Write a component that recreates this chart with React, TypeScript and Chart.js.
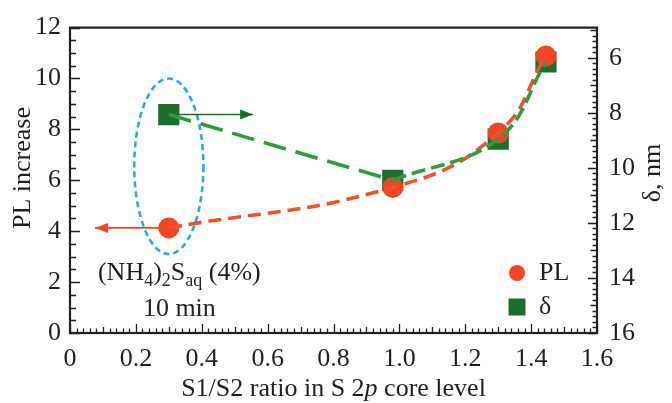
import React, { useEffect, useRef } from "react";
import { Chart, registerables } from "chart.js";
Chart.register(...registerables);

// ---- data ----
const ratio = [0.3, 0.98, 1.3, 1.445];
const plIncrease = [4.13, 5.72, 7.86, 10.88];
const deltaNm = [8.06, 10.45, 8.95, 6.15];

const xTicks = [0, 0.2, 0.4, 0.6, 0.8, 1.0, 1.2, 1.4, 1.6];
const xTickLabels = ["0", "0.2", "0.4", "0.6", "0.8", "1.0", "1.2", "1.4", "1.6"];
const plTicks = [0, 2, 4, 6, 8, 10, 12];
const deltaTicks = [6, 8, 10, 12, 14, 16];

const FONT = "Liberation Serif";
const FS = 26;
const TXT = "#231f20";
const RED = "#f04623";
const RED_LINE = "#f0502c";
const GREEN = "#1c6e2e";
const GREEN_LINE = "#2f9a3e";
const CYAN = "#2aa9e0";

const pts = (xs: number[], ys: number[]) => xs.map((x, i) => ({ x, y: ys[i] }));

const decorPlugin = {
  id: "decor",
  beforeDatasetsDraw(chart: any) {
    const ctx = chart.ctx;
    const x = chart.scales.x, y = chart.scales.y, y2 = chart.scales.y2;
    ctx.save();
    // dashed ellipse around the first sample
    const cx = x.getPixelForValue(0.3);
    const cy = y.getPixelForValue(6.55);
    const rx = x.getPixelForValue(0.405) - cx;
    const ry = cy - y.getPixelForValue(10.0);
    ctx.strokeStyle = CYAN;
    ctx.lineWidth = 2.6;
    ctx.setLineDash([6, 4]);
    ctx.beginPath();
    ctx.ellipse(cx, cy, rx, ry, 0, 0, Math.PI * 2);
    ctx.stroke();
    ctx.setLineDash([]);
    // arrows
    const arrow = (x0: number, x1: number, py: number, color: string) => {
      ctx.strokeStyle = color;
      ctx.fillStyle = color;
      ctx.lineWidth = 1.6;
      ctx.beginPath();
      ctx.moveTo(x0, py);
      ctx.lineTo(x1, py);
      ctx.stroke();
      const dir = x1 > x0 ? 1 : -1;
      ctx.beginPath();
      ctx.moveTo(x1, py);
      ctx.lineTo(x1 - dir * 13, py - 5);
      ctx.lineTo(x1 - dir * 13, py + 5);
      ctx.closePath();
      ctx.fill();
    };
    arrow(x.getPixelForValue(ratio[0]), x.getPixelForValue(0.076), y.getPixelForValue(plIncrease[0]), RED);
    arrow(x.getPixelForValue(ratio[0]), x.getPixelForValue(0.556), y2.getPixelForValue(deltaNm[0]), GREEN);
    ctx.restore();
  },
  afterDraw(chart: any) {
    const ctx = chart.ctx;
    const { left, right, top, bottom } = chart.chartArea;
    const x = chart.scales.x, y = chart.scales.y, y2 = chart.scales.y2;
    ctx.save();
    // inward tick marks
    ctx.strokeStyle = TXT;
    ctx.lineWidth = 1.3;
    ctx.beginPath();
    for (let i = 0; i <= 80; i++) {
      const px = Math.round(x.getPixelForValue(i * 0.02)) + 0.5;
      const len = i % 10 === 0 ? 9 : i % 5 === 0 ? 6 : 4.5;
      ctx.moveTo(px, bottom);
      ctx.lineTo(px, bottom - len);
    }
    for (let i = 0; i <= 24; i++) {
      const py = Math.round(y.getPixelForValue(i * 0.5)) + 0.5;
      const len = i % 4 === 0 ? 10 : 6;
      ctx.moveTo(left, py);
      ctx.lineTo(left + len, py);
    }
    for (let i = 25; i <= 80; i++) {
      const v = i * 0.2;
      const py = Math.round(y2.getPixelForValue(v)) + 0.5;
      const len = i % 10 === 0 ? 9 : i % 5 === 0 ? 6.5 : 4.5;
      ctx.moveTo(right, py);
      ctx.lineTo(right - len, py);
    }
    ctx.stroke();
    // frame
    ctx.lineWidth = 2.2;
    ctx.strokeRect(left, top, right - left, bottom - top);

    const mainF = `${FS}px "${FONT}"`;
    const italF = `italic ${FS}px "${FONT}"`;
    const subF = `18px "${FONT}"`;

    // axis titles
    ctx.fillStyle = TXT;
    ctx.textBaseline = "middle";
    const parts = [
      { t: "S1/S2 ratio in S 2", f: mainF },
      { t: "p", f: italF },
      { t: " core level", f: mainF },
    ];
    let w = 0;
    parts.forEach((p) => { ctx.font = p.f; w += ctx.measureText(p.t).width; });
    let tx = (left + right) / 2 - w / 2;
    ctx.textAlign = "left";
    parts.forEach((p) => { ctx.font = p.f; ctx.fillText(p.t, tx, 389); tx += ctx.measureText(p.t).width; });

    ctx.font = mainF;
    ctx.textAlign = "center";
    ctx.save();
    ctx.translate(23, 168);
    ctx.rotate(-Math.PI / 2);
    ctx.fillText("PL increase", 0, 0);
    ctx.restore();
    ctx.save();
    ctx.translate(653, 173);
    ctx.rotate(-Math.PI / 2);
    ctx.fillText("δ, nm", 0, 0);
    ctx.restore();

    // annotation text
    const seg = [
      { t: "(NH", s: false }, { t: "4", s: true }, { t: ")", s: false }, { t: "2", s: true },
      { t: "S", s: false }, { t: "aq", s: true }, { t: " (4%)", s: false },
    ];
    let sw = 0;
    seg.forEach((s) => { ctx.font = s.s ? subF : mainF; sw += ctx.measureText(s.t).width; });
    const acx = x.getPixelForValue(0.332);
    const l1 = y.getPixelForValue(2.35);
    let sx = acx - sw / 2;
    ctx.textAlign = "left";
    seg.forEach((s) => {
      ctx.font = s.s ? subF : mainF;
      ctx.fillText(s.t, sx, s.s ? l1 + 8 : l1);
      sx += ctx.measureText(s.t).width;
    });
    ctx.font = mainF;
    ctx.textAlign = "center";
    ctx.fillText("10 min", acx, y.getPixelForValue(0.95));

    // legend
    const lx = right - 80;
    const ly1 = bottom - 60, ly2 = bottom - 26;
    ctx.fillStyle = RED;
    ctx.beginPath();
    ctx.arc(lx, ly1, 8, 0, Math.PI * 2);
    ctx.fill();
    ctx.fillStyle = GREEN;
    ctx.fillRect(lx - 8.5, ly2 - 8.5, 17, 17);
    ctx.fillStyle = TXT;
    ctx.textAlign = "left";
    ctx.font = mainF;
    ctx.fillText("PL", lx + 22, ly1);
    ctx.fillText("δ", lx + 22, ly2);
    ctx.restore();
  },
};

export default function App() {
  const ref = useRef<HTMLCanvasElement | null>(null);
  useEffect(() => {
    if (!ref.current) return;
    const tickFont = { family: FONT, size: FS };
    const chart = new Chart(ref.current, {
      type: "scatter",
      data: {
        datasets: [
          {
            label: "PL curve",
            data: pts(ratio, plIncrease),
            showLine: true,
            tension: 0.45,
            borderColor: RED_LINE,
            borderWidth: 3.6,
            borderDash: [13, 7],
            pointRadius: 0,
            yAxisID: "y",
            order: 2,
          },
          {
            label: "δ straight",
            data: pts(ratio.slice(0, 2), deltaNm.slice(0, 2)),
            showLine: true,
            borderColor: GREEN_LINE,
            borderWidth: 3.6,
            borderDash: [23, 10],
            pointRadius: 0,
            yAxisID: "y2",
            order: 1,
          },
          {
            label: "δ curve",
            data: pts(ratio.slice(1), deltaNm.slice(1)),
            showLine: true,
            tension: 0.4,
            borderColor: GREEN_LINE,
            borderWidth: 3.6,
            borderDash: [14, 6],
            pointRadius: 0,
            yAxisID: "y2",
            order: 0,
          },
          {
            label: "PL",
            data: pts(ratio, plIncrease),
            showLine: false,
            pointStyle: "circle",
            pointRadius: 10.5,
            backgroundColor: RED,
            borderColor: RED,
            borderWidth: 0,
            yAxisID: "y",
            order: 3,
          },
          {
            label: "δ",
            data: pts(ratio, deltaNm),
            showLine: false,
            pointStyle: "rect",
            pointRadius: 15,
            backgroundColor: GREEN,
            borderColor: GREEN,
            borderWidth: 0,
            yAxisID: "y2",
            order: 4,
          },
        ],
      },
      options: {
        responsive: false,
        animation: false,
        devicePixelRatio: 1,
        layout: { padding: { top: 19, left: 0, right: 0, bottom: 0 } },
        plugins: { legend: { display: false }, tooltip: { enabled: false } },
        scales: {
          x: {
            type: "linear",
            min: 0,
            max: 1.6,
            grid: { display: false, drawTicks: false },
            border: { display: false },
            ticks: {
              font: tickFont,
              color: TXT,
              padding: 11,
              maxRotation: 0,
              autoSkip: false,
              callback: (_v: any, i: number) => xTickLabels[i],
            },
            afterBuildTicks: (s: any) => { s.ticks = xTicks.map((v) => ({ value: v })); },
            afterFit: (s: any) => { s.height = 70; },
          },
          y: {
            type: "linear",
            position: "left",
            min: 0,
            max: 12,
            grid: { display: false, drawTicks: false },
            border: { display: false },
            ticks: { font: tickFont, color: TXT, padding: 9, autoSkip: false },
            afterBuildTicks: (s: any) => { s.ticks = plTicks.map((v) => ({ value: v })); },
            afterFit: (s: any) => { s.width = 70; },
          },
          y2: {
            type: "linear",
            position: "right",
            min: 4.9,
            max: 16,
            reverse: true,
            grid: { display: false, drawTicks: false },
            border: { display: false },
            ticks: { font: tickFont, color: TXT, padding: 12, autoSkip: false },
            afterBuildTicks: (s: any) => { s.ticks = deltaTicks.map((v) => ({ value: v })); },
            afterFit: (s: any) => { s.width = 75; },
          },
        },
      },
      plugins: [decorPlugin],
    } as any);
    return () => chart.destroy();
  }, []);
  return (
    <div style={{ position: "fixed", left: 0, top: 0, width: 672, height: 403, background: "#fff" }}>
      <canvas ref={ref} width={672} height={403} style={{ display: "block" }} />
    </div>
  );
}
